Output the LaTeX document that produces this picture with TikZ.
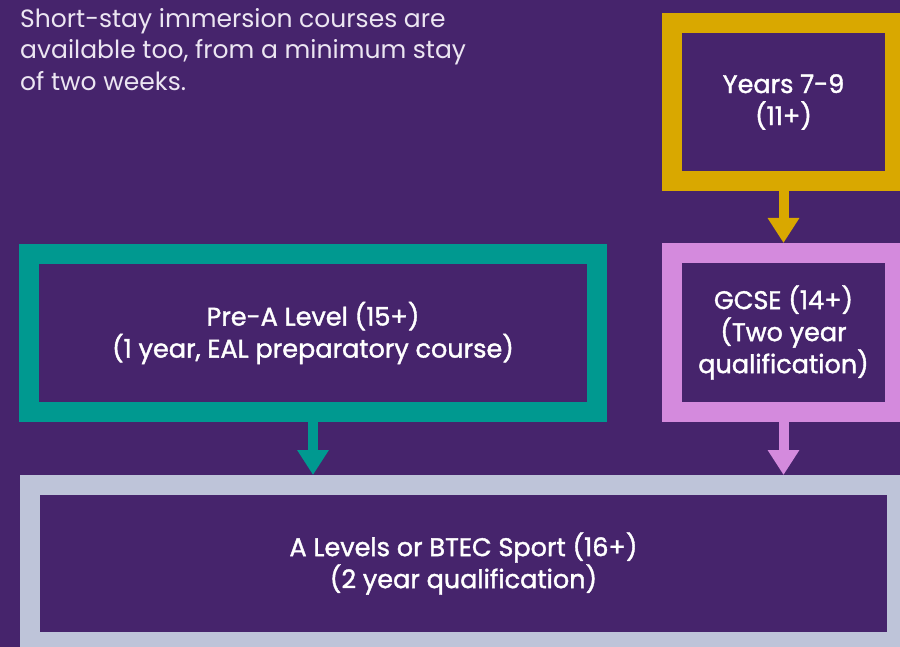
\documentclass[tikz,border=0pt]{standalone}
\usepackage{fontspec}
\setmainfont{Poppins}
\newfontfamily\labelfont{Poppins}[FakeBold=1.5]
\usetikzlibrary{arrows.meta}
\usetikzlibrary{positioning}
\definecolor{bgpurple}{HTML}{46246C}
\definecolor{yearsgold}{HTML}{D9A800}
\definecolor{gcsepink}{HTML}{D48ADD}
\definecolor{prealevelteal}{HTML}{009990}
\definecolor{alevelgrey}{HTML}{BEC4D9}
\definecolor{introtext}{HTML}{ECE6F2}

\begin{document}
\begin{tikzpicture}[x=1pt, y=-1pt,
    stage/.style={draw=#1, line width=20pt, fill=bgpurple, text=white, align=center,
      inner sep=0pt, font=\labelfont\fontsize{25.5}{32}\selectfont},
    flow/.style={draw=#1, line width=10pt, -{Triangle[width=30pt,length=25pt]}}]
      \fill[bgpurple] (0, 0) rectangle (900, 647);
      \useasboundingbox (0, 0) rectangle (900, 647);

      \node [anchor=north west, align=left, inner sep=0pt, text=introtext,
        font=\fontsize{25}{31.5}\selectfont] (intro) at (20, 8)
        {Short-stay immersion courses are\\available too, from a minimum stay\\of two weeks.};

      \node [stage=yearsgold, minimum width=223pt, minimum height=158pt] (years) at (783.5, 102) {Years 7-9\\(11+)};
      \node [stage=gcsepink, minimum width=223pt, minimum height=159pt] (gcse) at (783.5, 332.5) {GCSE (14+)\\(Two year\\qualification)};
      \node [stage=prealevelteal, minimum width=568pt, minimum height=158pt] (prea) at (313, 333) {Pre-A Level (15+)\\(1 year, EAL preparatory course)};
      \node [stage=alevelgrey, minimum width=867pt, minimum height=157pt] (alevel) at (463.5, 563.5) {A Levels or BTEC Sport (16+)\\(2 year qualification)};

      \draw [flow=yearsgold] (years.south) -- (gcse.north);
      \draw [flow=gcsepink] (gcse.south) -- (gcse.south |- alevel.north);
      \draw [flow=prealevelteal] (prea.south) -- (prea.south |- alevel.north);
    \end{tikzpicture}
\end{document}
